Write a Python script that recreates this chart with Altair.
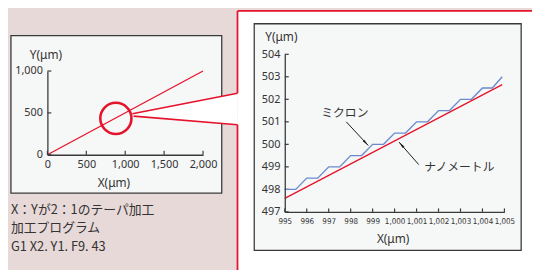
import math
import altair as alt
import pandas as pd

# ---------------- data ----------------
# overview (left): X:Y = 2:1 taper, 0..2000 um
overview_x = [0, 2000]
overview_y = [0, 1000]
# detail (right): nanometre command path (straight) and micron-step path
nano_x = [995, 1004.9]
nano_y = [497.6, 502.65]
micron_x = [995, 995.5, 996, 996.5, 997, 997.5, 998, 998.5, 999, 999.5,
            1000, 1000.5, 1001, 1001.5, 1002, 1002.5, 1003, 1003.5, 1004, 1004.45, 1004.9]
micron_y = [498, 498, 498.5, 498.5, 499, 499, 499.5, 499.5, 500, 500,
            500.5, 500.5, 501, 501, 501.5, 501.5, 502, 502, 502.5, 502.5, 503]
left_x_ticks = [0, 500, 1000, 1500, 2000]
left_y_ticks = [0, 500, 1000]
right_x_ticks = list(range(995, 1006))
right_y_ticks = list(range(497, 505))
caption_lines = ["X：Yが2：1のテーパ加工", "加工プログラム", "G1 X2. Y1. F9. 43"]
zoom_center = (880, 435)          # circled region in the overview
label_micron = "ミクロン"
label_nano = "ナノメートル"

# ---------------- style / layout ----------------
DARK = "#333333"
RED = "#e5132b"
BLUE = "#6a8bcf"
PINK = "#e8d9d9"
FRAME_FILL = "#f6f7f7"
FRAME_STROKE = "#3a3a3a"
LATIN = "Noto Sans"
JP = "Noto Sans CJK JP"
NARROW = "DejaVu Sans Condensed, Liberation Sans Narrow, sans-serif"

W, H = 532, 262
LX_DOM, LX_RNG = [0, 2000], [40, 198]
LY_DOM, LY_RNG = [0, 1000], [147, 62]
RX_DOM, RX_RNG = [995, 1005], [281, 504]
RY_DOM, RY_RNG = [497, 504], [205, 45]


def inv(dom, rng):
    k = (rng[1] - rng[0]) / (dom[1] - dom[0])
    return lambda p: dom[0] + (p - rng[0]) / k


lx, ly = inv(LX_DOM, LX_RNG), inv(LY_DOM, LY_RNG)
rx, ry = inv(RX_DOM, RX_RNG), inv(RY_DOM, RY_RNG)
RKX = (RX_RNG[1] - RX_RNG[0]) / (RX_DOM[1] - RX_DOM[0])
RKY = (RY_RNG[0] - RY_RNG[1]) / (RY_DOM[1] - RY_DOM[0])


def axis(orient, offset, values, title, tx, ty, lfont, lsize, lpad):
    return alt.Axis(orient=orient, offset=offset, values=values, format=",.0f", title=title,
                    ticks=False, grid=False, domainColor=FRAME_STROKE, domainWidth=1.3,
                    labelColor=DARK, labelFont=lfont, labelFontSize=lsize, labelPadding=lpad,
                    labelFlush=False, labelOverlap=False,
                    titleFont=LATIN, titleFontSize=12, titleFontWeight="normal", titleColor=DARK,
                    titleAngle=0, titleX=tx, titleY=ty, titleAlign="center", titleBaseline="middle",
                    zindex=1)


ax_lx = axis("bottom", LY_RNG[0] - H, left_x_ticks, "X(μm)", 107, 28, LATIN, 11, 4)
ax_ly = axis("left", -LX_RNG[0], left_y_ticks, "Y(μm)", -2, 45, LATIN, 11, 5)
ax_rx = axis("bottom", RY_RNG[0] - H, right_x_ticks, "X(μm)", 390.5, 27, NARROW, 8.1, 6)
ax_ry = axis("left", -RX_RNG[0], right_y_ticks, "Y(μm)", -4, 27, LATIN, 11, 5)

LXs = alt.Scale(domain=LX_DOM, range=LX_RNG, nice=False, zero=False)
LYs = alt.Scale(domain=LY_DOM, range=LY_RNG, nice=False, zero=False)
RXs = alt.Scale(domain=RX_DOM, range=RX_RNG, nice=False, zero=False)
RYs = alt.Scale(domain=RY_DOM, range=RY_RNG, nice=False, zero=False)


def LX(f="x"):
    return alt.X(f"{f}:Q", scale=LXs, axis=ax_lx)


def LY(f="y"):
    return alt.Y(f"{f}:Q", scale=LYs, axis=ax_ly)


def RX(f="x"):
    return alt.X(f"{f}:Q", scale=RXs, axis=ax_rx)


def RY(f="y"):
    return alt.Y(f"{f}:Q", scale=RYs, axis=ax_ry)


def rect_df(x, x2, y, y2):
    return pd.DataFrame({"x": [x], "x2": [x2], "y": [y], "y2": [y2]})


# ---------------- left panel ----------------
l_frame = alt.Chart(rect_df(lx(3), lx(217), ly(26), ly(186))).mark_rect(
    fill=FRAME_FILL, stroke=FRAME_STROKE, strokeWidth=1.3).encode(
    x=LX(), x2="x2:Q", y=LY(), y2="y2:Q")

p_left, p_top, gap_a, gap_b = 233, 1, 84.5, 116.5
panel = alt.Chart(rect_df(lx(p_left), lx(W + 10), ly(p_top), ly(H + 10))).mark_rect(
    fill="white", strokeWidth=0).encode(x=LX(), x2="x2:Q", y=LY(), y2="y2:Q")
border_df = pd.DataFrame({
    "x": [lx(p_left), lx(p_left), lx(p_left)],
    "x2": [lx(W + 10), lx(p_left), lx(p_left)],
    "y": [ly(p_top), ly(p_top), ly(gap_b)],
    "y2": [ly(p_top), ly(gap_a), ly(H + 10)],
})
border = alt.Chart(border_df).mark_rule(color=RED, strokeWidth=1.8).encode(
    x=LX(), x2="x2:Q", y=LY(), y2="y2:Q")

cap_df = pd.DataFrame({"t": caption_lines, "x": [lx(3)] * 3,
                       "y": [ly(203), ly(221.5), ly(241)]})
caption = alt.Chart(cap_df).mark_text(align="left", baseline="middle", font=JP,
                                      fontSize=13, color=DARK).encode(
    x=LX(), y=LY(), text="t:N")

l_line = alt.Chart(pd.DataFrame({"x": overview_x, "y": overview_y})).mark_line(
    color=RED, strokeWidth=1.3).encode(x=LX(), y=LY())

ltx = alt.Chart(pd.DataFrame({"x": left_x_ticks})).transform_calculate(
    y="0", y2=str(ly(LY_RNG[0] - 4))).mark_rule(color=FRAME_STROKE, strokeWidth=1.2).encode(
    x=LX(), y=LY(), y2="y2:Q")
lty = alt.Chart(pd.DataFrame({"y": left_y_ticks})).transform_calculate(
    x="0", x2=str(lx(LX_RNG[0] + 4))).mark_rule(color=FRAME_STROKE, strokeWidth=1.2).encode(
    x=LX(), x2="x2:Q", y=LY())

wedge_df = pd.DataFrame({"x": [lx(126.3), lx(p_left)], "y": [ly(105.3), ly(gap_a)],
                         "y2": [ly(107.8), ly(gap_b)]})
wedge = alt.Chart(wedge_df).mark_area(color="white", opacity=1).encode(
    x=LX(), y=LY(), y2="y2:Q")
wedge_lines_df = pd.DataFrame({"x": [lx(126.3), lx(127.5)], "x2": [lx(p_left), lx(p_left)],
                               "y": [ly(105.3), ly(107.8)], "y2": [ly(gap_a), ly(gap_b)]})
wedge_lines = alt.Chart(wedge_lines_df).mark_rule(color=RED, strokeWidth=1.6).encode(
    x=LX(), x2="x2:Q", y=LY(), y2="y2:Q")

circle = alt.Chart(pd.DataFrame({"x": [zoom_center[0]], "y": [zoom_center[1]]})).mark_point(
    shape="circle", filled=False, color=RED, strokeWidth=2.6, size=1000, opacity=1).encode(
    x=LX(), y=LY())

left = alt.layer(l_frame, panel, border, caption, l_line, ltx, lty, wedge, wedge_lines, circle)

# ---------------- right panel ----------------
r_frame = alt.Chart(rect_df(rx(250), rx(521), ry(14), ry(244))).mark_rect(
    fill=FRAME_FILL, stroke=FRAME_STROKE, strokeWidth=1.3).encode(
    x=RX(), x2="x2:Q", y=RY(), y2="y2:Q")

rtx = alt.Chart(pd.DataFrame({"x": right_x_ticks})).transform_calculate(
    y=str(RY_DOM[0]), y2=str(ry(RY_RNG[0] - 3.5))).mark_rule(
    color=FRAME_STROKE, strokeWidth=1.2).encode(x=RX(), y=RY(), y2="y2:Q")
rty = alt.Chart(pd.DataFrame({"y": right_y_ticks})).transform_calculate(
    x=str(RX_DOM[0]), x2=str(rx(RX_RNG[0] + 4))).mark_rule(
    color=FRAME_STROKE, strokeWidth=1.2).encode(x=RX(), x2="x2:Q", y=RY())

nano = alt.Chart(pd.DataFrame({"x": nano_x, "y": nano_y})).mark_line(
    color=RED, strokeWidth=1.3).encode(x=RX(), y=RY())
micron = alt.Chart(pd.DataFrame({"x": micron_x, "y": micron_y})).mark_line(
    color=BLUE, strokeWidth=1.4).encode(x=RX(), y=RY())

ann = pd.DataFrame({
    "t": [label_micron, label_nano],
    "x": [996.66, 1001.35], "y": [501.4, 499.0],           # text anchor
    "ax": [997.8, 1001.1], "ay": [501.0, 499.1],            # arrow tail
    "tx": [998.8, 1000.2], "ty": [499.95, 500.1],           # arrow tip
})
ann["ang"] = [
    math.degrees(math.atan2((t - a) * RKX, (u - b) * RKY)) % 360
    for a, b, t, u in zip(ann["ax"], ann["ay"], ann["tx"], ann["ty"])
]
shafts = alt.Chart(ann).mark_rule(color="#1a1a1a", strokeWidth=1).encode(
    x=RX("ax"), x2="tx:Q", y=RY("ay"), y2="ty:Q")
heads = alt.Chart(ann).mark_point(shape="M0,0L0.32,2L-0.32,2Z", filled=True, fill="#1a1a1a",
                                  strokeWidth=0, size=49, opacity=1).encode(
    x=RX("tx"), y=RY("ty"), angle=alt.Angle("ang:Q", scale=None))
labels = alt.Chart(ann).mark_text(align="left", baseline="middle", font=JP, fontSize=12,
                                  color=DARK).encode(x=RX(), y=RY(), text="t:N")

right = alt.layer(r_frame, rtx, rty, nano, micron, shafts, heads, labels)

chart = alt.layer(left, right).resolve_scale(x="independent", y="independent").properties(
    width=W, height=H, autosize=alt.AutoSizeParams(type="none"), padding=0,
    background=PINK).configure_view(stroke=None)

chart.save("out.html", embed_options={"renderer": "svg", "actions": False})
